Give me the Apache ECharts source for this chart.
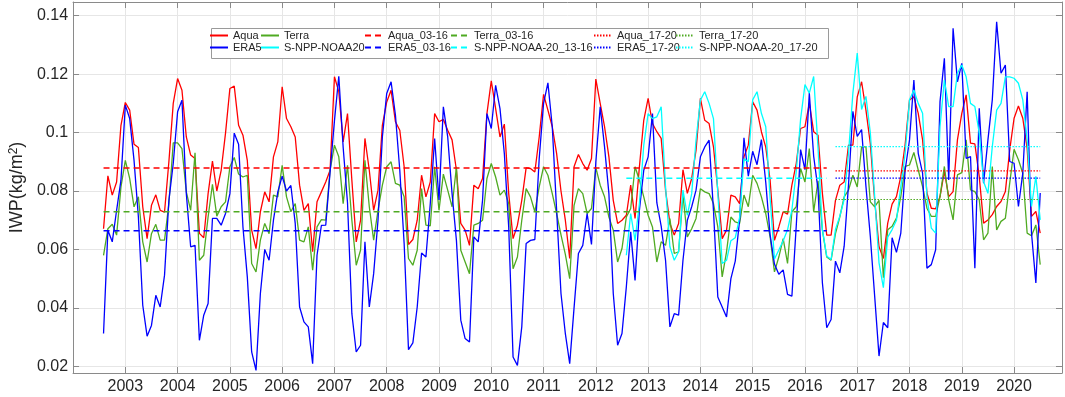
<!DOCTYPE html>
<html>
<head>
<meta charset="UTF-8" />
<title>IWP monthly series</title>
<style>
  html, body { margin: 0; padding: 0; background: #fff; }
  #chart { width: 1065px; height: 397px; }
</style>
</head>
<body>
<div id="chart"></div>
<script src="https://cdn.jsdelivr.net/npm/echarts@6/dist/echarts.min.js"></script>
<script>
// monthly values, first month = Aug 2002 (plotted at 2002 + 7/12), one per month
const startX = 2002 + 7 / 12;

const aqua = [
  0.0671, 0.0852, 0.0786, 0.0831, 0.1025, 0.1103, 0.1077, 0.0960, 0.0949, 0.0746, 0.0637, 0.0751,
  0.0787, 0.0734, 0.0728, 0.0900, 0.1100, 0.1185, 0.1145, 0.0985, 0.0923, 0.0911, 0.0655, 0.0640,
  0.0791, 0.0902, 0.0800, 0.0871, 0.0998, 0.1151, 0.1159, 0.1025, 0.0991, 0.0905, 0.0666, 0.0603,
  0.0729, 0.0797, 0.0763, 0.0917, 0.0968, 0.1157, 0.1048, 0.1020, 0.0985, 0.0820, 0.0734, 0.0757,
  0.0592, 0.0763, 0.0797, 0.0831, 0.0871, 0.1191, 0.1140, 0.0968, 0.1065, 0.0837, 0.0626, 0.0700,
  0.0980, 0.0871, 0.0734, 0.0803, 0.1025, 0.1105, 0.1145, 0.1037, 0.1008, 0.0883, 0.0617, 0.0634,
  0.0700, 0.0854, 0.0780, 0.0831, 0.1065, 0.1037, 0.1045, 0.1008, 0.0975, 0.0871, 0.0689, 0.0666,
  0.0614, 0.0820, 0.0808, 0.0843, 0.1065, 0.1177, 0.1082, 0.0985, 0.1029, 0.0792, 0.0637, 0.0683,
  0.0768, 0.0879, 0.0877, 0.0865, 0.0985, 0.1131, 0.1077, 0.1020, 0.0928, 0.0800, 0.0700, 0.0569,
  0.0883, 0.0925, 0.0894, 0.0871, 0.0911, 0.1183, 0.1100, 0.1020, 0.0917, 0.0768, 0.0689, 0.0700,
  0.0717, 0.0820, 0.0706, 0.0883, 0.1042, 0.1117, 0.1031, 0.1003, 0.0980, 0.0803, 0.0689, 0.0649,
  0.0689, 0.0873, 0.0792, 0.0843, 0.0940, 0.1117, 0.1042, 0.1031, 0.0951, 0.0803, 0.0637, 0.0666,
  0.0786, 0.0780, 0.0757, 0.0917, 0.0957, 0.1105, 0.1077, 0.1003, 0.0950, 0.0837, 0.0631, 0.0677,
  0.0729, 0.0721, 0.0820, 0.0894, 0.1014, 0.1020, 0.1100, 0.1003, 0.0991, 0.0792, 0.0649, 0.0649,
  0.0768, 0.0820, 0.0831, 0.0957, 0.0957, 0.1122, 0.1174, 0.1077, 0.0963, 0.0768, 0.0609, 0.0569,
  0.0690, 0.0755, 0.0781, 0.0850, 0.0960, 0.1112, 0.1123, 0.1066, 0.0975, 0.0793, 0.0741, 0.0739,
  0.0781, 0.0867, 0.0781, 0.0798, 0.0975, 0.1066, 0.1129, 0.0964, 0.0961, 0.0850, 0.0690, 0.0701,
  0.0719, 0.0747, 0.0764, 0.0798, 0.0941, 0.1049, 0.1091, 0.1049, 0.0946, 0.0713, 0.0730, 0.0656
];

const terra = [
  0.0580, 0.0671, 0.0686, 0.0649, 0.0814, 0.0905, 0.0843, 0.0746, 0.0780, 0.0626, 0.0557, 0.0654,
  0.0686, 0.0632, 0.0632, 0.0757, 0.0965, 0.0965, 0.0945, 0.0797, 0.0734, 0.0931, 0.0563, 0.0580,
  0.0711, 0.0823, 0.0714, 0.0746, 0.0763, 0.0883, 0.0915, 0.0858, 0.0848, 0.0854, 0.0552, 0.0523,
  0.0632, 0.0689, 0.0654, 0.0786, 0.0780, 0.0888, 0.0780, 0.0729, 0.0757, 0.0632, 0.0626, 0.0677,
  0.0529, 0.0677, 0.0702, 0.0700, 0.0871, 0.0957, 0.0917, 0.0757, 0.0888, 0.0700, 0.0546, 0.0598,
  0.0905, 0.0746, 0.0632, 0.0734, 0.0820, 0.0883, 0.0900, 0.0826, 0.0820, 0.0780, 0.0569, 0.0546,
  0.0597, 0.0808, 0.0683, 0.0681, 0.0883, 0.0734, 0.0858, 0.0803, 0.0746, 0.0883, 0.0597, 0.0557,
  0.0517, 0.0683, 0.0689, 0.0700, 0.0843, 0.0894, 0.0848, 0.0786, 0.0803, 0.0757, 0.0534, 0.0574,
  0.0700, 0.0808, 0.0780, 0.0729, 0.0814, 0.0883, 0.0854, 0.0791, 0.0723, 0.0650, 0.0583, 0.0500,
  0.0751, 0.0808, 0.0791, 0.0723, 0.0740, 0.0880, 0.0820, 0.0780, 0.0711, 0.0666, 0.0557, 0.0603,
  0.0711, 0.0740, 0.0883, 0.0837, 0.0780, 0.0717, 0.0677, 0.0557, 0.0626, 0.0614, 0.0706, 0.0586,
  0.0592, 0.0786, 0.0643, 0.0671, 0.0706, 0.0808, 0.0797, 0.0791, 0.0757, 0.0677, 0.0506, 0.0592,
  0.0711, 0.0694, 0.0689, 0.0786, 0.0746, 0.0854, 0.0826, 0.0780, 0.0723, 0.0643, 0.0523, 0.0574,
  0.0637, 0.0552, 0.0729, 0.0746, 0.0877, 0.0831, 0.0945, 0.0729, 0.0835, 0.0666, 0.0574, 0.0563,
  0.0654, 0.0711, 0.0780, 0.0803, 0.0854, 0.0814, 0.0951, 0.0951, 0.0763, 0.0746, 0.0768, 0.0503,
  0.0667, 0.0679, 0.0707, 0.0781, 0.0884, 0.0889, 0.0932, 0.0872, 0.0815, 0.0741, 0.0713, 0.0713,
  0.0781, 0.0884, 0.0770, 0.0701, 0.0855, 0.0863, 0.0975, 0.0804, 0.0798, 0.0770, 0.0633, 0.0656,
  0.0884, 0.0667, 0.0696, 0.0707, 0.0827, 0.0943, 0.0907, 0.0861, 0.0656, 0.0647, 0.0684, 0.0548
];

const era5 = [
  0.0312, 0.0666, 0.0626, 0.0734, 0.0837, 0.1094, 0.1048, 0.0905, 0.0711, 0.0409, 0.0303, 0.0340,
  0.0443, 0.0403, 0.0512, 0.0768, 0.0894, 0.1071, 0.1111, 0.0791, 0.0609, 0.0614, 0.0289, 0.0375,
  0.0415, 0.0706, 0.0706, 0.0683, 0.0723, 0.0791, 0.0998, 0.0960, 0.0677, 0.0506, 0.0249, 0.0186,
  0.0449, 0.0600, 0.0563, 0.0700, 0.0797, 0.0851, 0.0800, 0.0819, 0.0689, 0.0403, 0.0352, 0.0335,
  0.0209, 0.0580, 0.0682, 0.0683, 0.0865, 0.1040, 0.1193, 0.0950, 0.0760, 0.0380, 0.0249, 0.0272,
  0.0626, 0.0403, 0.0517, 0.0700, 0.0985, 0.1134, 0.1174, 0.1060, 0.0871, 0.0620, 0.0257, 0.0280,
  0.0403, 0.0588, 0.0574, 0.0757, 0.0980, 0.0769, 0.1088, 0.0985, 0.0791, 0.0631, 0.0358, 0.0295,
  0.0283, 0.0643, 0.0626, 0.0769, 0.1065, 0.1014, 0.1162, 0.1082, 0.0928, 0.0677, 0.0232, 0.0203,
  0.0335, 0.0620, 0.0631, 0.0634, 0.0911, 0.1100, 0.1170, 0.1020, 0.0734, 0.0449, 0.0312, 0.0209,
  0.0400, 0.0586, 0.0614, 0.0723, 0.0617, 0.0900, 0.1088, 0.0951, 0.0791, 0.0449, 0.0272, 0.0312,
  0.0472, 0.0660, 0.0494, 0.0734, 0.0871, 0.0917, 0.1065, 0.0760, 0.0680, 0.0563, 0.0335, 0.0380,
  0.0375, 0.0563, 0.0700, 0.0746, 0.0803, 0.0917, 0.0951, 0.0974, 0.0734, 0.0437, 0.0403, 0.0369,
  0.0500, 0.0560, 0.0700, 0.0982, 0.0851, 0.0936, 0.0890, 0.0976, 0.0830, 0.0650, 0.0550, 0.0515,
  0.0530, 0.0446, 0.0440, 0.0680, 0.0942, 0.0873, 0.1135, 0.0919, 0.0805, 0.0486, 0.0332, 0.0360,
  0.0560, 0.0520, 0.0611, 0.0822, 0.1073, 0.0987, 0.1010, 0.0816, 0.0645, 0.0440, 0.0235, 0.0350,
  0.0332, 0.0640, 0.0590, 0.0656, 0.0872, 0.0975, 0.1180, 0.0929, 0.0861, 0.0536, 0.0548, 0.0599,
  0.1106, 0.1254, 0.0838, 0.1357, 0.1174, 0.1237, 0.0912, 0.0918, 0.0536, 0.1083, 0.0827, 0.0975,
  0.1112, 0.1379, 0.1203, 0.1231, 0.0901, 0.0895, 0.0747, 0.0861, 0.1140, 0.0656, 0.0485, 0.0793
];

// S-NPP / NOAA-20 starts Aug 2012 (month index 120)
const snppStart = 120;
const snpp = [
  0.0580, 0.0723, 0.0631, 0.0757, 0.0957, 0.1065, 0.1048, 0.1054, 0.1088, 0.0814, 0.0609, 0.0563,
  0.0592, 0.0803, 0.0717, 0.0791, 0.0974, 0.1111, 0.1140, 0.1100, 0.1048, 0.0791, 0.0552, 0.0563,
  0.0630, 0.0640, 0.0710, 0.0910, 0.0900, 0.1112, 0.1140, 0.1066, 0.1020, 0.0775, 0.0567, 0.0598,
  0.0630, 0.0667, 0.0735, 0.0866, 0.1046, 0.1164, 0.1135, 0.1192, 0.0947, 0.0668, 0.0577, 0.0566,
  0.0668, 0.0714, 0.0771, 0.0930, 0.1135, 0.1272, 0.1079, 0.1124, 0.1000, 0.0782, 0.0554, 0.0469,
  0.0642, 0.0668, 0.0700, 0.0815, 0.0929, 0.1112, 0.1146, 0.1100, 0.1066, 0.0781, 0.0673, 0.0656,
  0.1021, 0.1180, 0.1089, 0.1089, 0.1203, 0.1231, 0.1191, 0.1100, 0.1089, 0.0998, 0.0832, 0.0792,
  0.0952, 0.1077, 0.1100, 0.1191, 0.1191, 0.1186, 0.1169, 0.1112, 0.0975, 0.0747, 0.0850, 0.0701
];

// period means, order: Aqua, Terra, ERA5, S-NPP-NOAA20
const mean0316 = [0.0879, 0.0729, 0.0664, 0.0844];
const mean1720 = [0.0869, 0.0771, 0.0844, 0.0952];
// month index ranges for the mean lines
const range0316 = [0, 166];
const range1316 = [120, 166];
const range1720 = [168, 215];

const yearTicks = [2003, 2004, 2005, 2006, 2007, 2008, 2009, 2010, 2011,
                   2012, 2013, 2014, 2015, 2016, 2017, 2018, 2019, 2020];

const xOf = i => startX + i / 12;
const toPts = (vals, off) => vals.map((v, i) => [xOf(i + off), v]);
const segment = (r, v) => [[xOf(r[0]), v], [xOf(r[1]), v]];

const RED = '#ff0000', GREEN = '#4faa22', BLUE = '#0000ff', CYAN = '#00ffff';
const FONT = 'Liberation Sans';
const AXIS_GRAY = '#8a8a8a';

function dataLine(name, color, data) {
  return { name, type: 'line', data, symbol: 'none', lineStyle: { color, width: 1.3 },
           itemStyle: { color }, z: 2 };
}
function meanLine(name, color, data, dotted) {
  return { name, type: 'line', data, symbol: 'none',
           lineStyle: { color, width: dotted ? 1.2 : 1.5, type: dotted ? [1.5, 1.5] : [6, 4] },
           itemStyle: { color }, z: 3 };
}

const series = [
  dataLine('Aqua', RED, toPts(aqua, 0)),
  dataLine('Terra', GREEN, toPts(terra, 0)),
  dataLine('ERA5', BLUE, toPts(era5, 0)),
  dataLine('S-NPP-NOAA20', CYAN, toPts(snpp, snppStart)),
  meanLine('Aqua_03-16', RED, segment(range0316, mean0316[0]), false),
  meanLine('Terra_03-16', GREEN, segment(range0316, mean0316[1]), false),
  meanLine('ERA5_03-16', BLUE, segment(range0316, mean0316[2]), false),
  meanLine('S-NPP-NOAA-20_13-16', CYAN, segment(range1316, mean0316[3]), false),
  meanLine('Aqua_17-20', RED, segment(range1720, mean1720[0]), true),
  meanLine('Terra_17-20', GREEN, segment(range1720, mean1720[1]), true),
  meanLine('ERA5_17-20', BLUE, segment(range1720, mean1720[2]), true),
  meanLine('S-NPP-NOAA-20_17-20', CYAN, segment(range1720, mean1720[3]), true)
];

// legend: 6 columns x 2 rows
const legendCols = [
  [209, ['Aqua', 'ERA5']],
  [260, ['Terra', 'S-NPP-NOAA20']],
  [364, ['Aqua_03-16', 'ERA5_03-16']],
  [450, ['Terra_03-16', 'S-NPP-NOAA-20_13-16']],
  [593, ['Aqua_17-20', 'ERA5_17-20']],
  [675, ['Terra_17-20', 'S-NPP-NOAA-20_17-20']]
];
const legends = legendCols.map(([left, names]) => ({
  data: names, orient: 'vertical', left, top: 30, padding: 0,
  itemWidth: 18, itemHeight: 12, itemGap: 1, z: 6,
  itemStyle: { opacity: 0 },
  textStyle: { fontFamily: FONT, fontSize: 11, color: '#262626' }
}));

const yMin = 0.0177, yMax = 0.1447;
const xMin = 2002, xMax = 2020 + 11 / 12;
const yLabel = v => {
  const k = v / 0.02;
  return Math.abs(k - Math.round(k)) < 1e-6 ? String(+v.toFixed(2)) : '';
};

const chart = echarts.init(document.getElementById('chart'));
chart.setOption({
  animation: false,
  backgroundColor: '#fff',
  grid: { left: 64, right: 3, top: 2, bottom: 24 },
  legend: legends,
  graphic: [{
    type: 'rect', left: 211, top: 28, z: 5,
    shape: { width: 617, height: 30 },
    style: { fill: '#fff', stroke: '#9a9a9a', lineWidth: 1 }
  }],
  xAxis: [{
    type: 'value', min: xMin, max: xMax, interval: 1,
    axisLine: { lineStyle: { color: AXIS_GRAY } },
    axisTick: { inside: true, length: 6, lineStyle: { color: AXIS_GRAY } },
    axisLabel: {
      showMinLabel: false, showMaxLabel: false, margin: 6,
      fontFamily: FONT, fontSize: 16, color: '#262626',
      formatter: v => (yearTicks.includes(Math.round(v)) && Math.abs(v - Math.round(v)) < 1e-6) ? String(Math.round(v)) : ''
    },
    splitLine: { show: true, lineStyle: { color: '#e6e6e6' } }
  }, {
    type: 'value', position: 'top', min: xMin, max: xMax, interval: 1,
    axisLine: { show: true, lineStyle: { color: AXIS_GRAY } },
    axisTick: { inside: true, length: 6, lineStyle: { color: AXIS_GRAY } },
    axisLabel: { show: false }, splitLine: { show: false }
  }],
  yAxis: [{
    type: 'value', min: yMin, max: yMax, splitNumber: 6,
    name: 'IWP(kg/m{sup|2})', nameLocation: 'middle', nameGap: 37, nameRotate: 90,
    nameTextStyle: { fontFamily: FONT, fontSize: 18, color: '#262626',
      rich: { sup: { fontFamily: FONT, fontSize: 12, color: '#262626', verticalAlign: 'top' } } },
    axisLine: { show: true, lineStyle: { color: AXIS_GRAY } },
    axisTick: { show: true, inside: true, length: 6, lineStyle: { color: AXIS_GRAY } },
    axisLabel: { showMinLabel: false, showMaxLabel: false, margin: 5,
      fontFamily: FONT, fontSize: 16, color: '#262626', formatter: yLabel },
    splitLine: { show: true, lineStyle: { color: '#e6e6e6' } }
  }, {
    type: 'value', position: 'right', min: yMin, max: yMax, splitNumber: 6,
    axisLine: { show: true, lineStyle: { color: AXIS_GRAY } },
    axisTick: { show: true, inside: true, length: 6, lineStyle: { color: AXIS_GRAY } },
    axisLabel: { show: false }, splitLine: { show: false }
  }],
  series
});
</script>
</body>
</html>
